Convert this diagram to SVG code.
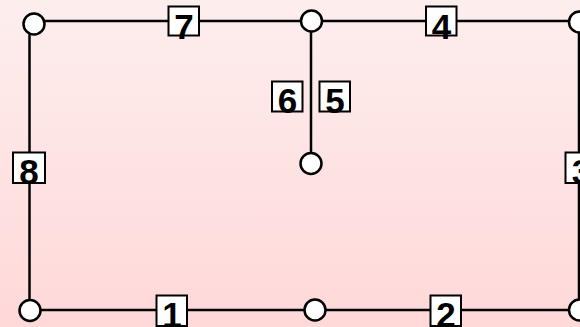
<svg xmlns="http://www.w3.org/2000/svg" width="580" height="327" viewBox="0 0 580 327">
  <defs>
    <linearGradient id="bg" x1="0" y1="0" x2="0" y2="1">
      <stop offset="0" stop-color="#fdeeee"/>
      <stop offset="1" stop-color="#ffd8d8"/>
    </linearGradient>
    <style>
      .edge { stroke: #000; stroke-width: 2.5; fill: none; }
      .node { fill: #fff; stroke: #000; stroke-width: 2.5; }
      .tag rect { fill: #fff; stroke: #000; stroke-width: 2; }
      .tag text { font-family: "Liberation Sans", Arial, sans-serif; font-weight: bold; font-size: 35px; text-anchor: middle; fill: #000; }
    </style>
  </defs>

  <rect width="580" height="327" fill="url(#bg)"/>

  <!-- connectors -->
  <g id="connectors">
    <line class="edge" x1="34" y1="21" x2="580" y2="21"/>
    <line class="edge" x1="29.5" y1="24" x2="29.5" y2="310"/>
    <line class="edge" x1="30" y1="310" x2="580" y2="310"/>
    <line class="edge" x1="579" y1="21" x2="579" y2="310"/>
    <line class="edge" x1="311" y1="21" x2="311" y2="163"/>
  </g>

  <!-- edge labels -->
  <g id="labels">
    <g class="tag" id="label-7"><rect x="168.5" y="6.5" width="30.5" height="29"/><text x="184" y="38.5">7</text></g>
    <g class="tag" id="label-4"><rect x="426" y="6.5" width="30.5" height="29"/><text x="441.5" y="38.5">4</text></g>
    <g class="tag" id="label-6"><rect x="272" y="81.5" width="30.5" height="30"/><text x="287.5" y="112.5">6</text></g>
    <g class="tag" id="label-5"><rect x="319.5" y="81.5" width="30.5" height="30"/><text x="335" y="112.5">5</text></g>
    <g class="tag" id="label-8"><rect x="13" y="152.5" width="32" height="30.5"/><text x="29" y="184">8</text></g>
    <g class="tag" id="label-3"><rect x="565.5" y="152.5" width="32" height="30.5"/><text x="581.5" y="184">3</text></g>
    <g class="tag" id="label-1"><rect x="156.5" y="295.5" width="30.5" height="30.5"/><text x="172" y="327">1</text></g>
    <g class="tag" id="label-2"><rect x="430.5" y="295.5" width="30.5" height="30.5"/><text x="446" y="327">2</text></g>
  </g>

  <!-- nodes -->
  <g id="n-top-left"><circle class="node" cx="34" cy="24" r="10.5"/></g>
  <g id="n-top-mid"><circle class="node" cx="311.5" cy="21" r="10.5"/></g>
  <g id="n-top-right"><circle class="node" cx="579.5" cy="22" r="10.5"/></g>
  <g id="n-stem"><circle class="node" cx="311" cy="163.5" r="10.5"/></g>
  <g id="n-bottom-left"><circle class="node" cx="30" cy="310.5" r="10.5"/></g>
  <g id="n-bottom-mid"><circle class="node" cx="315" cy="310" r="10.5"/></g>
  <g id="n-bottom-right"><circle class="node" cx="579.5" cy="310" r="10.5"/></g>
</svg>
